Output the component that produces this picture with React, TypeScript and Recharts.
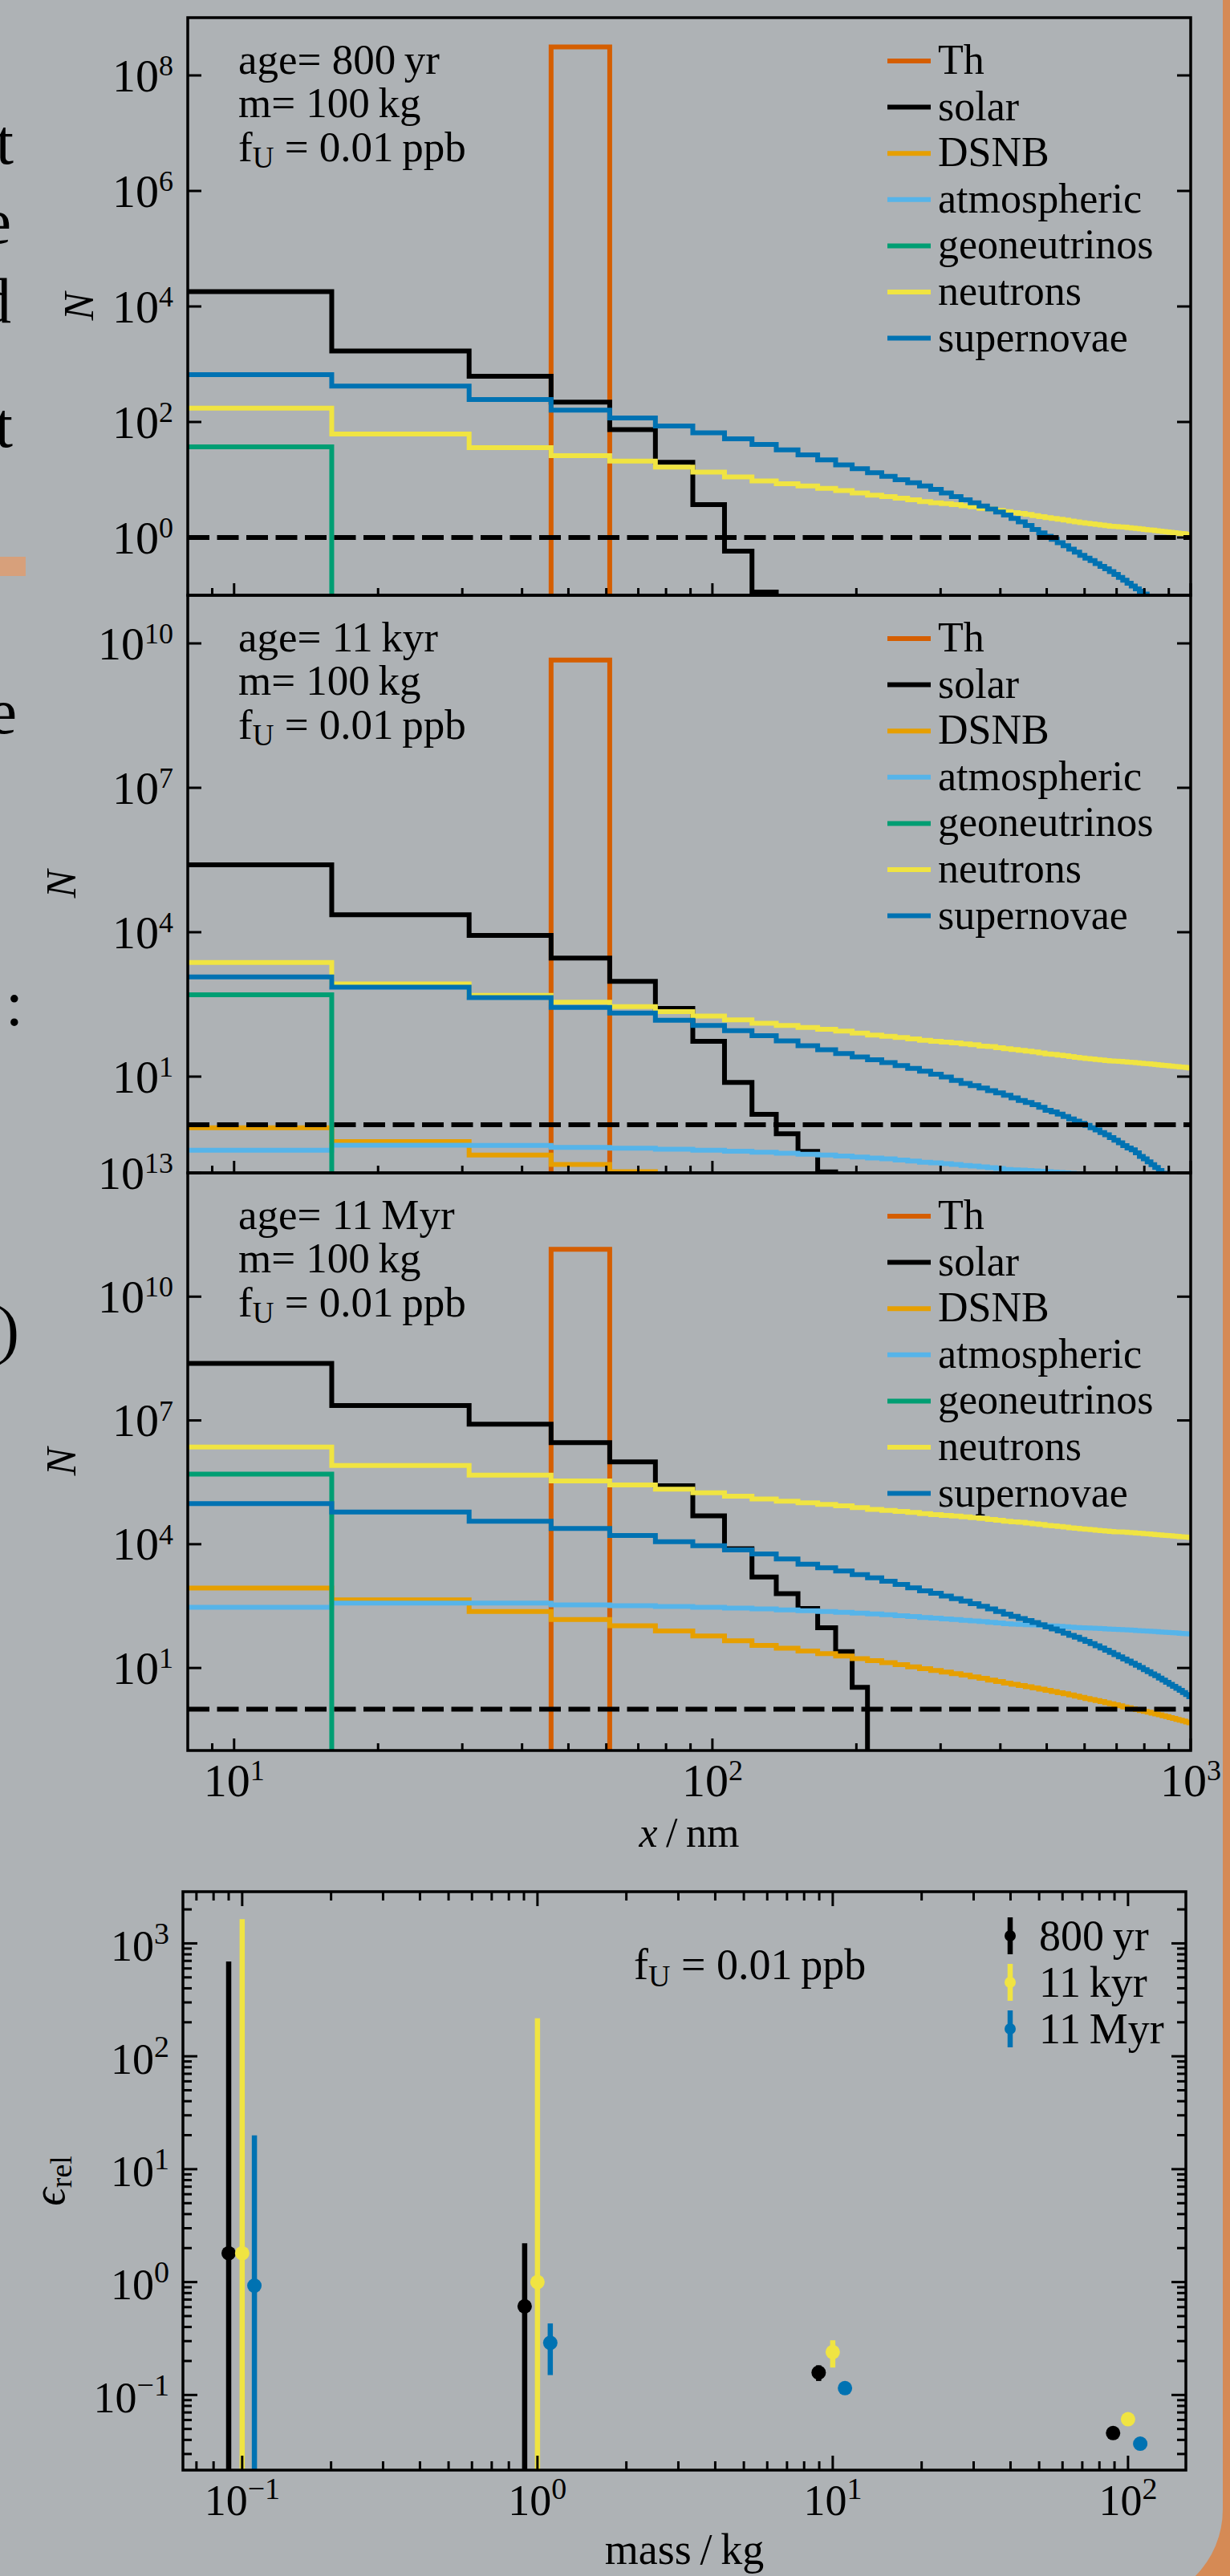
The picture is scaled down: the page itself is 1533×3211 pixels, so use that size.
import React from 'react';
import { LineChart, Line, XAxis, YAxis, ReferenceLine, ScatterChart, Scatter, ErrorBar } from 'recharts';

const PAGE_W = 1533;
const PAGE_H = 3211;
const BG = '#aeb2b5';
const ORANGE = '#d58a55';
const FONT = '"Liberation Serif", "DejaVu Serif", serif';

// histogram bin edges along x (nm)
const EDGES = [1, 16, 31, 46, 61, 76, 91, 106, 121, 136, 151, 166, 181, 196, 211, 226, 241, 256, 271, 286,
  301, 316, 331, 346, 361, 376, 391, 406, 421, 436, 451, 466, 481, 496, 511, 526, 541, 556, 571, 586,
  601, 616, 631, 646, 661, 676, 691, 706, 721, 736, 751, 766, 781, 796, 811, 826, 841, 856, 871, 886,
  901, 916, 931, 946, 961, 976, 991, 1006];

// --- age = 800 yr ---
const TH_800YR = [0, 0, 0, 3.1e8, 0];
const SOLAR_800YR = [1.8e4, 1.7e3, 620, 220, 74, 20, 3.7, 0.58, 0.114, 0];
const GEO_800YR = [37, 0];
const NEUTRONS_800YR = [174, 62, 36, 26, 21, 16.6, 13.5, 11.2, 9.5, 8.5,
  7.8, 7.1, 6.5, 5.9, 5.4, 5.1, 4.8, 4.5, 4.2, 4.0,
  3.85, 3.7, 3.55, 3.4, 3.2, 3.1, 2.95, 2.8, 2.7, 2.6,
  2.5, 2.4, 2.3, 2.2, 2.14, 2.07, 2.0, 1.93, 1.86, 1.8,
  1.76, 1.72, 1.68, 1.64, 1.6, 1.57, 1.55, 1.53, 1.51, 1.48,
  1.46, 1.43, 1.41, 1.38, 1.36, 1.34, 1.31, 1.29, 1.27, 1.25,
  1.23, 1.21, 1.19, 1.17, 1.16, 1.14, 1.12];
const SUPERNOVAE_800YR = [660, 420, 245, 160, 117, 85, 65, 51, 41, 33,
  27, 22, 18, 15.5, 13.2, 11.5, 10, 8.9, 7.8, 6.8,
  5.9, 5.1, 4.5, 4.0, 3.5, 3.1, 2.75, 2.45, 2.14, 1.86,
  1.62, 1.38, 1.2, 1.05, 0.93, 0.81, 0.72, 0.63, 0.56, 0.49,
  0.44, 0.4, 0.355, 0.316, 0.288, 0.257, 0.229, 0.204, 0.182, 0.162,
  0.145, 0.129, 0.117, 0.105, 0.091, 0.079, 0.069, 0.06, 0.052, 0.045,
  0.038, 0.032, 0.028, 0.023, 0.02, 0.017, 0.014];

// --- age = 11 kyr ---
const TH_11KYR = [0, 0, 0, 4.5e9, 0];
const SOLAR_11KYR = [2.5e5, 2.3e4, 8.6e3, 2.9e3, 950, 260, 54, 7.6, 1.65, 0.65, 0.28, 0.105, 0];
const DSNB_11KYR = [0.867, 0.447, 0.235, 0.149, 0.106, 0.0785, 0.0596];
const ATMOSPHERIC_11KYR = [0.295, 0.376, 0.372, 0.339, 0.324, 0.309, 0.295, 0.282, 0.269, 0.257,
  0.245, 0.234, 0.224, 0.214, 0.204, 0.195, 0.184, 0.176, 0.167, 0.161,
  0.155, 0.149, 0.143, 0.138, 0.133, 0.128, 0.123, 0.118, 0.116, 0.114,
  0.112, 0.11, 0.108, 0.106, 0.104, 0.102, 0.1, 0.098, 0.096, 0.094];
const GEO_11KYR = [500, 0];
const NEUTRONS_11KYR = [2350, 840, 486, 351, 284, 224, 182, 151, 128, 115,
  105, 96, 88, 80, 73, 69, 65, 61, 57, 54,
  52, 50, 48, 46, 43, 42, 40, 38, 36.5, 35,
  33.8, 32.4, 31, 29.7, 28.9, 27.9, 27, 26, 25.1, 24.3,
  23.8, 23.2, 22.7, 22.1, 21.6, 21.2, 20.9, 20.7, 20.4, 20.0,
  19.7, 19.3, 19.0, 18.6, 18.4, 18.1, 17.7, 17.4, 17.1, 16.9,
  16.6, 16.3, 16.1, 15.8, 15.7, 15.4, 15.1];
const SUPERNOVAE_11KYR = [1180, 720, 440, 275, 210, 148, 115, 90, 71, 55,
  44, 36, 30, 25.7, 22.4, 19.5, 17, 14.8, 12.9, 11.2,
  9.8, 8.3, 7.2, 6.5, 5.8, 5.1, 4.6, 4.1, 3.6, 3.2,
  2.9, 2.6, 2.3, 2.0, 1.84, 1.66, 1.48, 1.32, 1.19, 1.07,
  0.97, 0.87, 0.78, 0.69, 0.62, 0.54, 0.48, 0.42, 0.37, 0.33,
  0.3, 0.26, 0.22, 0.195, 0.17, 0.148, 0.129, 0.112, 0.098, 0.083,
  0.071, 0.06, 0.051, 0.043, 0.035, 0.03, 0.025];

// --- age = 11 Myr ---
const TH_11MYR = [0, 0, 0, 1.4e11, 0];
const SOLAR_11MYR = [2.4e8, 2.3e7, 8.1e6, 2.9e6, 9.9e5, 2.6e5, 4.85e4, 7.8e3, 1.6e3, 630, 276, 94, 25, 3.4, 0];
const DSNB_11MYR = [867, 447, 235, 149, 106, 78.5, 59.6, 45.4, 35.3, 30.2,
  25.7, 22.4, 19.5, 16.9, 15.1, 13.5, 12, 10.7, 9.6, 8.75,
  8.0, 7.3, 6.7, 6.1, 5.6, 5.1, 4.7, 4.3, 4.0, 3.76,
  3.52, 3.3, 3.08, 2.88, 2.7, 2.52, 2.37, 2.21, 2.07, 1.94,
  1.82, 1.72, 1.62, 1.53, 1.44, 1.36, 1.28, 1.21, 1.14, 1.08,
  1.03, 0.98, 0.93, 0.89, 0.85, 0.8, 0.77, 0.73, 0.69, 0.66,
  0.63, 0.6, 0.57, 0.54, 0.52, 0.49, 0.47];
const ATMOSPHERIC_11MYR = [295, 376, 372, 339, 324, 309, 295, 282, 269, 257,
  245, 234, 224, 214, 204, 195, 184, 176, 167, 161,
  155, 149, 143, 138, 133, 128, 123, 118, 116, 114,
  112, 110, 108, 106, 104, 102, 100, 98, 96, 94,
  93, 92, 91, 90, 88.5, 87.5, 86.5, 85.3, 84.3, 83.2,
  82.2, 81.1, 80, 79, 78, 76.9, 76, 75, 74, 73.1,
  72.1, 71.1, 70.3, 69.3, 68.4, 67.6, 66.7];
const GEO_11MYR = [5e5, 0];
const NEUTRONS_11MYR = [2.26e6, 8.1e5, 4.7e5, 3.4e5, 2.73e5, 2.16e5, 1.76e5, 1.46e5, 1.24e5, 1.1e5,
  1.01e5, 9.2e4, 8.5e4, 7.7e4, 7.0e4, 6.6e4, 6.2e4, 5.9e4, 5.5e4, 5.2e4,
  5.0e4, 4.8e4, 4.6e4, 4.4e4, 4.2e4, 4.0e4, 3.8e4, 3.6e4, 3.5e4, 3.4e4,
  3.25e4, 3.1e4, 3.0e4, 2.86e4, 2.78e4, 2.69e4, 2.6e4, 2.5e4, 2.42e4, 2.34e4,
  2.29e4, 2.24e4, 2.18e4, 2.13e4, 2.08e4, 2.04e4, 2.0e4, 1.99e4, 1.96e4, 1.92e4,
  1.9e4, 1.86e4, 1.83e4, 1.79e4, 1.77e4, 1.74e4, 1.7e4, 1.68e4, 1.65e4, 1.63e4,
  1.6e4, 1.57e4, 1.55e4, 1.52e4, 1.51e4, 1.48e4, 1.46e4];
const SUPERNOVAE_11MYR = [9.6e4, 6.0e4, 3.6e4, 2.4e4, 1.62e4, 1.15e4, 9160, 7290, 5790, 4400,
  3270, 2690, 2240, 1840, 1530, 1270, 1060, 880, 740, 646,
  556, 479, 417, 361, 312, 269, 233, 202, 179, 158,
  141, 126, 112, 99, 88, 78.5, 70, 62, 55.5, 49.4,
  44, 39, 34.4, 30.4, 26.9, 23.8, 21, 18.6, 16.5, 14.7,
  13, 11.6, 10.3, 9.1, 8.1, 7.2, 6.5, 5.7, 5.1, 4.5,
  4.0, 3.6, 3.2, 2.86, 2.55, 2.27, 2.0];

const Y_TICKS_800YR = [1, 1e2, 1e4, 1e6, 1e8];
const Y_TICKS_11KYR = [1e1, 1e4, 1e7, 1e10];
const Y_TICKS_11MYR = [1e1, 1e4, 1e7, 1e10, 1e13];
const X_TICKS = [9, 10, 20, 30, 40, 50, 60, 70, 80, 90, 100, 200, 300, 400, 500, 600, 700, 800, 900, 1000];

// --- relative error vs. mass ---
const MASS_800YR = [0.09, 0.905, 8.96, 89];
const EPS_800YR = [1.8, 0.61, 0.158, 0.046];
const ERR_800YR = [690, 1.6, 0.025, 0.004];
const MASS_11KYR = [0.1, 1.0, 10, 100];
const EPS_11KYR = [1.8, 1.0, 0.24, 0.061];
const ERR_11KYR = [1640, 216, 0.065, 0.005];
const MASS_11MYR = [0.11, 1.105, 11, 110];
const EPS_11MYR = [0.93, 0.29, 0.115, 0.037];
const ERR_11MYR = [19, 0.14, 0.006, 0.003];

const COLORS: Record<string, string> = {
  th: '#d55e00', solar: '#000000', dsnb: '#e69f00', atm: '#56b4e9',
  geo: '#009e73', neutrons: '#f0e442', sn: '#0072b2',
};
const LEGEND: [string, string][] = [
  ['Th', 'th'], ['solar', 'solar'], ['DSNB', 'dsnb'], ['atmospheric', 'atm'],
  ['geoneutrinos', 'geo'], ['neutrons', 'neutrons'], ['supernovae', 'sn'],
];

const FLOOR = 1e-3; // empty bins, pushed below the log axis
const steps = (vals: number[]) => {
  const pts = vals.map((v, i) => ({ x: EDGES[i], y: v > 0 ? v : FLOOR }));
  pts.push({ x: EDGES[vals.length], y: pts[pts.length - 1].y });
  return pts;
};

const logTicks = (lo: number, hi: number) => {
  const out: number[] = [];
  for (let k = -3; k <= 4; k++) for (let m = 1; m <= 9; m++) {
    const v = +(m * Math.pow(10, k)).toPrecision(3);
    if (v >= lo && v <= hi) out.push(v);
  }
  return out;
};
const isDecade = (v: number) => Math.abs(Math.log10(v) - Math.round(Math.log10(v))) < 1e-6;
const expText = (v: number) => {
  const e = Math.round(Math.log10(v));
  return e < 0 ? `\u2212${-e}` : `${e}`;
};

const yTick = (c: { left: number; right: number; major: number; minor: number; gap: number; fs: number; sup: number; dy: number; rise: number }) =>
  (p: any) => {
    const v = p.payload.value;
    const y = p.y;
    const maj = isDecade(v);
    const len = maj ? c.major : c.minor;
    return (
      <g>
        <line x1={c.left} x2={c.left + len} y1={y} y2={y} stroke="#000" strokeWidth={3} />
        <line x1={c.right - len} x2={c.right} y1={y} y2={y} stroke="#000" strokeWidth={3} />
        {maj && (
          <text x={c.left - c.gap} y={y + c.dy} textAnchor="end" fontFamily={FONT} fontSize={c.fs} fill="#000">
            10<tspan dy={-c.rise} fontSize={c.sup}>{expText(v)}</tspan>
          </text>
        )}
      </g>
    );
  };

const xTick = (c: { bottom: number; top?: number; major: number; minor: number; labels: boolean; dy: number; fs: number; sup: number; rise: number }) =>
  (p: any) => {
    const v = p.payload.value;
    const x = p.x;
    const maj = isDecade(v);
    const len = maj ? c.major : c.minor;
    return (
      <g>
        <line x1={x} x2={x} y1={c.bottom} y2={c.bottom - len} stroke="#000" strokeWidth={3} />
        {c.top !== undefined && <line x1={x} x2={x} y1={c.top} y2={c.top + len} stroke="#000" strokeWidth={3} />}
        {c.labels && maj && (
          <text x={x} y={c.bottom + c.dy} textAnchor="middle" fontFamily={FONT} fontSize={c.fs} fill="#000">
            10<tspan dy={-c.rise} fontSize={c.sup}>{expText(v)}</tspan>
          </text>
        )}
      </g>
    );
  };

const PLOT_L = 234;
const PLOT_R = 1484;
const PANEL_H = 720;
const MT = 60;
const BELOW = 110;
const YW = 60;
const XH = 30;
const LINE_W = 6;

type PanelCfg = {
  top: number; age: string; yDomain: [number, number]; yTicks: number[]; labelX: number; xLabels: boolean;
  series: { key: string; vals: number[] }[];
};

const PANELS: PanelCfg[] = [
  {
    top: 22, age: '800\u2009yr', yDomain: [0.1, 1e9], yTicks: Y_TICKS_800YR, labelX: 116, xLabels: false,
    series: [
      { key: 'th', vals: TH_800YR }, { key: 'solar', vals: SOLAR_800YR }, { key: 'geo', vals: GEO_800YR },
      { key: 'neutrons', vals: NEUTRONS_800YR }, { key: 'sn', vals: SUPERNOVAE_800YR },
    ],
  },
  {
    top: 742, age: '11\u2009kyr', yDomain: [0.1, 1e11], yTicks: Y_TICKS_11KYR, labelX: 94, xLabels: false,
    series: [
      { key: 'th', vals: TH_11KYR }, { key: 'solar', vals: SOLAR_11KYR }, { key: 'dsnb', vals: DSNB_11KYR },
      { key: 'atm', vals: ATMOSPHERIC_11KYR }, { key: 'geo', vals: GEO_11KYR },
      { key: 'neutrons', vals: NEUTRONS_11KYR }, { key: 'sn', vals: SUPERNOVAE_11KYR },
    ],
  },
  {
    top: 1462, age: '11\u2009Myr', yDomain: [0.1, 1e13], yTicks: Y_TICKS_11MYR, labelX: 94, xLabels: true,
    series: [
      { key: 'th', vals: TH_11MYR }, { key: 'solar', vals: SOLAR_11MYR }, { key: 'dsnb', vals: DSNB_11MYR },
      { key: 'atm', vals: ATMOSPHERIC_11MYR }, { key: 'geo', vals: GEO_11MYR },
      { key: 'neutrons', vals: NEUTRONS_11MYR }, { key: 'sn', vals: SUPERNOVAE_11MYR },
    ],
  },
];

const Panel = ({ p }: { p: PanelCfg }) => {
  const bottom = MT + PANEL_H;
  return (
    <div style={{ position: 'absolute', left: 0, top: p.top - MT }}>
      <LineChart
        width={PAGE_W}
        height={MT + PANEL_H + BELOW}
        margin={{ top: MT, right: PAGE_W - PLOT_R, bottom: BELOW - XH, left: PLOT_L - YW }}
      >
        <XAxis
          type="number" dataKey="x" scale="log" domain={[8, 1000]} allowDataOverflow
          ticks={X_TICKS} interval={0} axisLine={false} tickLine={false} height={XH}
          tick={xTick({ bottom, major: 15, minor: 9, labels: p.xLabels, dy: 57, fs: 58, sup: 36, rise: 20 })}
        />
        <YAxis
          type="number" scale="log" domain={p.yDomain} allowDataOverflow
          ticks={p.yTicks} interval={0} axisLine={false} tickLine={false} width={YW}
          tick={yTick({ left: PLOT_L, right: PLOT_R, major: 17, minor: 9, gap: 18, fs: 58, sup: 36, dy: 19.5, rise: 19.5 })}
        />
        {p.series.map((s) => (
          <Line
            key={s.key} data={steps(s.vals)} dataKey="y" type="stepAfter"
            stroke={COLORS[s.key]} strokeWidth={LINE_W} dot={false} activeDot={false}
            isAnimationActive={false}
          />
        ))}
        <ReferenceLine y={1} stroke="#000" strokeWidth={6} strokeDasharray="27 9.5" />
      </LineChart>
    </div>
  );
};

// bottom chart geometry
const B_L = 228;
const B_R = 1478;
const B_T = 2358;
const B_B = 3079;
const B_X_DOMAIN: [number, number] = [0.063, 157];
const B_Y_DOMAIN: [number, number] = [0.0216, 2870];
const B_X_TICKS = logTicks(B_X_DOMAIN[0], B_X_DOMAIN[1]);
const B_Y_TICKS = logTicks(B_Y_DOMAIN[0], B_Y_DOMAIN[1]);

const AGE_SERIES = [
  { name: '800\u2009yr', color: '#000000', mass: MASS_800YR, eps: EPS_800YR, err: ERR_800YR },
  { name: '11\u2009kyr', color: '#f0e442', mass: MASS_11KYR, eps: EPS_11KYR, err: ERR_11KYR },
  { name: '11\u2009Myr', color: '#0072b2', mass: MASS_11MYR, eps: EPS_11MYR, err: ERR_11MYR },
];

// error bars that reach below zero are cut at the lower axis limit (log axis)
const errRange = (v: number, e: number) => [v - Math.max(v - e, B_Y_DOMAIN[0]), e];

const ErrorChart = () => {
  const bottom = MT + (B_B - B_T);
  return (
    <div style={{ position: 'absolute', left: 0, top: B_T - MT }}>
      <ScatterChart
        width={PAGE_W}
        height={MT + (B_B - B_T) + 140}
        margin={{ top: MT, right: PAGE_W - B_R, bottom: 140 - XH, left: B_L - YW }}
      >
        <XAxis
          type="number" dataKey="x" scale="log" domain={B_X_DOMAIN} allowDataOverflow
          ticks={B_X_TICKS} interval={0} axisLine={false} tickLine={false} height={XH}
          tick={xTick({ bottom, top: MT, major: 18, minor: 11, labels: true, dy: 56, fs: 54, sup: 38, rise: 20 })}
        />
        <YAxis
          type="number" dataKey="y" scale="log" domain={B_Y_DOMAIN} allowDataOverflow
          ticks={B_Y_TICKS} interval={0} axisLine={false} tickLine={false} width={YW}
          tick={yTick({ left: B_L, right: B_R, major: 18, minor: 11, gap: 17, fs: 54, sup: 38, dy: 21.5, rise: 21 })}
        />
        {AGE_SERIES.map((s) => (
          <Scatter
            key={s.name}
            name={s.name}
            data={s.mass.map((m, i) => ({ x: m, y: s.eps[i], err: errRange(s.eps[i], s.err[i]) }))}
            fill={s.color}
            isAnimationActive={false}
            shape={(q: any) => <circle cx={q.cx} cy={q.cy} r={9} fill={s.color} />}
          >
            <ErrorBar dataKey="err" direction="y" width={0} stroke={s.color} strokeWidth={6.5} />
          </Scatter>
        ))}
      </ScatterChart>
    </div>
  );
};

const EDGE_GLYPHS = [
  { ch: 't', x: 17, y: 204 }, { ch: 'e', x: 14, y: 303 }, { ch: 'd', x: 14, y: 402 },
  { ch: 't', x: 16, y: 557 }, { ch: 'e', x: 21, y: 914 }, { ch: ':', x: 29, y: 1278 },
  { ch: ')', x: 24, y: 1684 },
];

const Overlay = () => (
  <svg width={PAGE_W} height={PAGE_H} style={{ position: 'absolute', left: 0, top: 0, pointerEvents: 'none' }}
    fontFamily={FONT} fill="#000">
    {EDGE_GLYPHS.map((g, i) => (
      <text key={i} x={g.x} y={g.y} textAnchor="end" fontSize={80}>{g.ch}</text>
    ))}
    {PANELS.map((p) => (
      <g key={p.top}>
        <rect x={PLOT_L} y={p.top} width={PLOT_R - PLOT_L} height={PANEL_H} fill="none" stroke="#000" strokeWidth={3.5} />
        <text x={297} y={p.top + 70} fontSize={53}>age= {p.age}</text>
        <text x={297} y={p.top + 124} fontSize={53}>m= 100{'\u2009'}kg</text>
        <text x={297} y={p.top + 179} fontSize={53}>
          f<tspan dy={8} fontSize={37}>U</tspan><tspan dy={-8}>{' = 0.01\u2009ppb'}</tspan>
        </text>
        {LEGEND.map(([label, key], i) => {
          const cy = p.top + 54 + 57.6 * i;
          return (
            <g key={key}>
              <line x1={1106} x2={1160} y1={cy} y2={cy} stroke={COLORS[key]} strokeWidth={6} />
              <text x={1169} y={cy + 16} fontSize={52}>{label}</text>
            </g>
          );
        })}
        <text transform={`translate(${p.labelX}, ${p.top + PANEL_H / 2}) rotate(-90)`} textAnchor="middle"
          fontSize={52} fontStyle="italic">N</text>
      </g>
    ))}
    <text x={(PLOT_L + PLOT_R) / 2} y={2302} textAnchor="middle" fontSize={52}>
      <tspan fontStyle="italic">x</tspan>{'\u2009/\u2009nm'}
    </text>

    <rect x={B_L} y={B_T} width={B_R - B_L} height={B_B - B_T} fill="none" stroke="#000" strokeWidth={3.5} />
    <text x={790} y={2467} fontSize={54}>
      f<tspan dy={9} fontSize={38}>U</tspan><tspan dy={-9}>{' = 0.01\u2009ppb'}</tspan>
    </text>
    {AGE_SERIES.map((s, i) => {
      const cy = 2413 + 58 * i;
      return (
        <g key={s.name}>
          <line x1={1259} x2={1259} y1={cy - 23} y2={cy + 23} stroke={s.color} strokeWidth={6.5} />
          <circle cx={1259} cy={cy} r={7} fill={s.color} />
          <text x={1295} y={cy + 18} fontSize={54}>{s.name}</text>
        </g>
      );
    })}
    <text transform={`translate(80, ${(B_T + B_B) / 2}) rotate(-90)`} textAnchor="middle" fontSize={56}>
      <tspan fontStyle="italic">{'\u03f5'}</tspan><tspan dy={9} fontSize={38}>rel</tspan>
    </text>
    <text x={(B_L + B_R) / 2} y={3196} textAnchor="middle" fontSize={54}>{'mass\u2009/\u2009kg'}</text>
  </svg>
);

const App = () => (
  <div style={{ position: 'absolute', left: 0, top: 0, width: PAGE_W, height: PAGE_H, background: ORANGE, overflow: 'hidden' }}>
    <div style={{ position: 'absolute', left: 0, top: 0, width: 1524, height: 3246, background: BG, borderBottomRightRadius: 118 }} />
    <div style={{ position: 'absolute', left: 0, top: 694, width: 32, height: 24, background: '#d7a07b' }} />
    {PANELS.map((p) => <Panel key={p.top} p={p} />)}
    <ErrorChart />
    <Overlay />
  </div>
);

export default App;
